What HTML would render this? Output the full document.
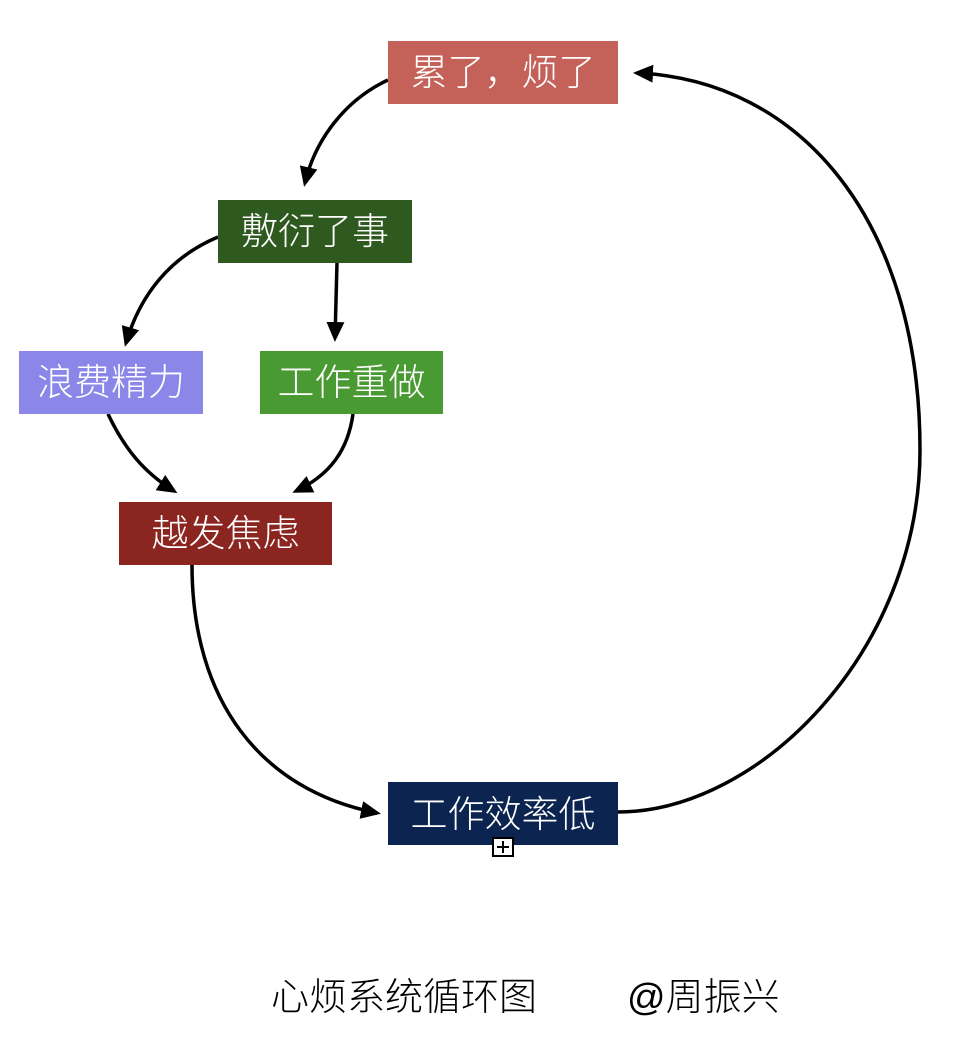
<!DOCTYPE html>
<html><head><meta charset="utf-8"><style>
body{margin:0;background:#fff;width:972px;height:1046px;position:relative;overflow:hidden;font-family:"Liberation Sans","Noto Sans CJK SC",sans-serif}
.n{position:absolute;height:63px;line-height:64px;color:#fff;text-align:center;font-size:37px;font-weight:300}
.t{position:absolute;font-size:38px;color:#000;font-weight:300;line-height:40px;white-space:nowrap}
</style></head><body>
<svg width="972" height="1046" style="position:absolute;left:0;top:0">
<defs><marker id="a" markerWidth="20" markerHeight="18" refX="16" refY="9" orient="auto" markerUnits="userSpaceOnUse" viewBox="0 0 20 18"><path d="M0,0 L20,9 L0,18 z" fill="#000"/></marker></defs>
<g fill="none" stroke="#000" stroke-width="3.5">
<path d="M388,80 C345,100 315,140 305,183" marker-end="url(#a)"/>
<path d="M218,237 C170,257 140,295 126,343" marker-end="url(#a)"/>
<path d="M337,263 L335,338" marker-end="url(#a)"/>
<path d="M108,414 C125,450 145,473 174,491" marker-end="url(#a)"/>
<path d="M353,414 C348,450 330,475 296,491" marker-end="url(#a)"/>
<path d="M192,565 C192,700 260,790 377,813" marker-end="url(#a)"/>
<path d="M618,812 C760,812 920,650 920,450 C920,220 800,80 637,73" marker-end="url(#a)"/>
</g>
</svg>
<div class="n" style="left:388px;top:41px;width:230px;background:#c4625a">累了，烦了</div>
<div class="n" style="left:218px;top:200px;width:194px;background:#2f5a1f">敷衍了事</div>
<div class="n" style="left:19px;top:351px;width:184px;background:#8a87e8">浪费精力</div>
<div class="n" style="left:260px;top:351px;width:183px;background:#4a9a34">工作重做</div>
<div class="n" style="left:119px;top:502px;width:213px;background:#8b2520">越发焦虑</div>
<div class="n" style="left:388px;top:782px;width:230px;background:#0b2450;line-height:66px">工作效率低</div>
<svg width="22" height="20" style="position:absolute;left:492px;top:837px"><rect x="1" y="1" width="20" height="18" fill="#fff" stroke="#000" stroke-width="2"/><path d="M11,4 V16 M5,10 H17" stroke="#000" stroke-width="2"/></svg>
<div class="t" style="left:271px;top:978px">心烦系统循环图</div>
<div class="t" style="left:627px;top:978px">@周振兴</div>
</body></html>
